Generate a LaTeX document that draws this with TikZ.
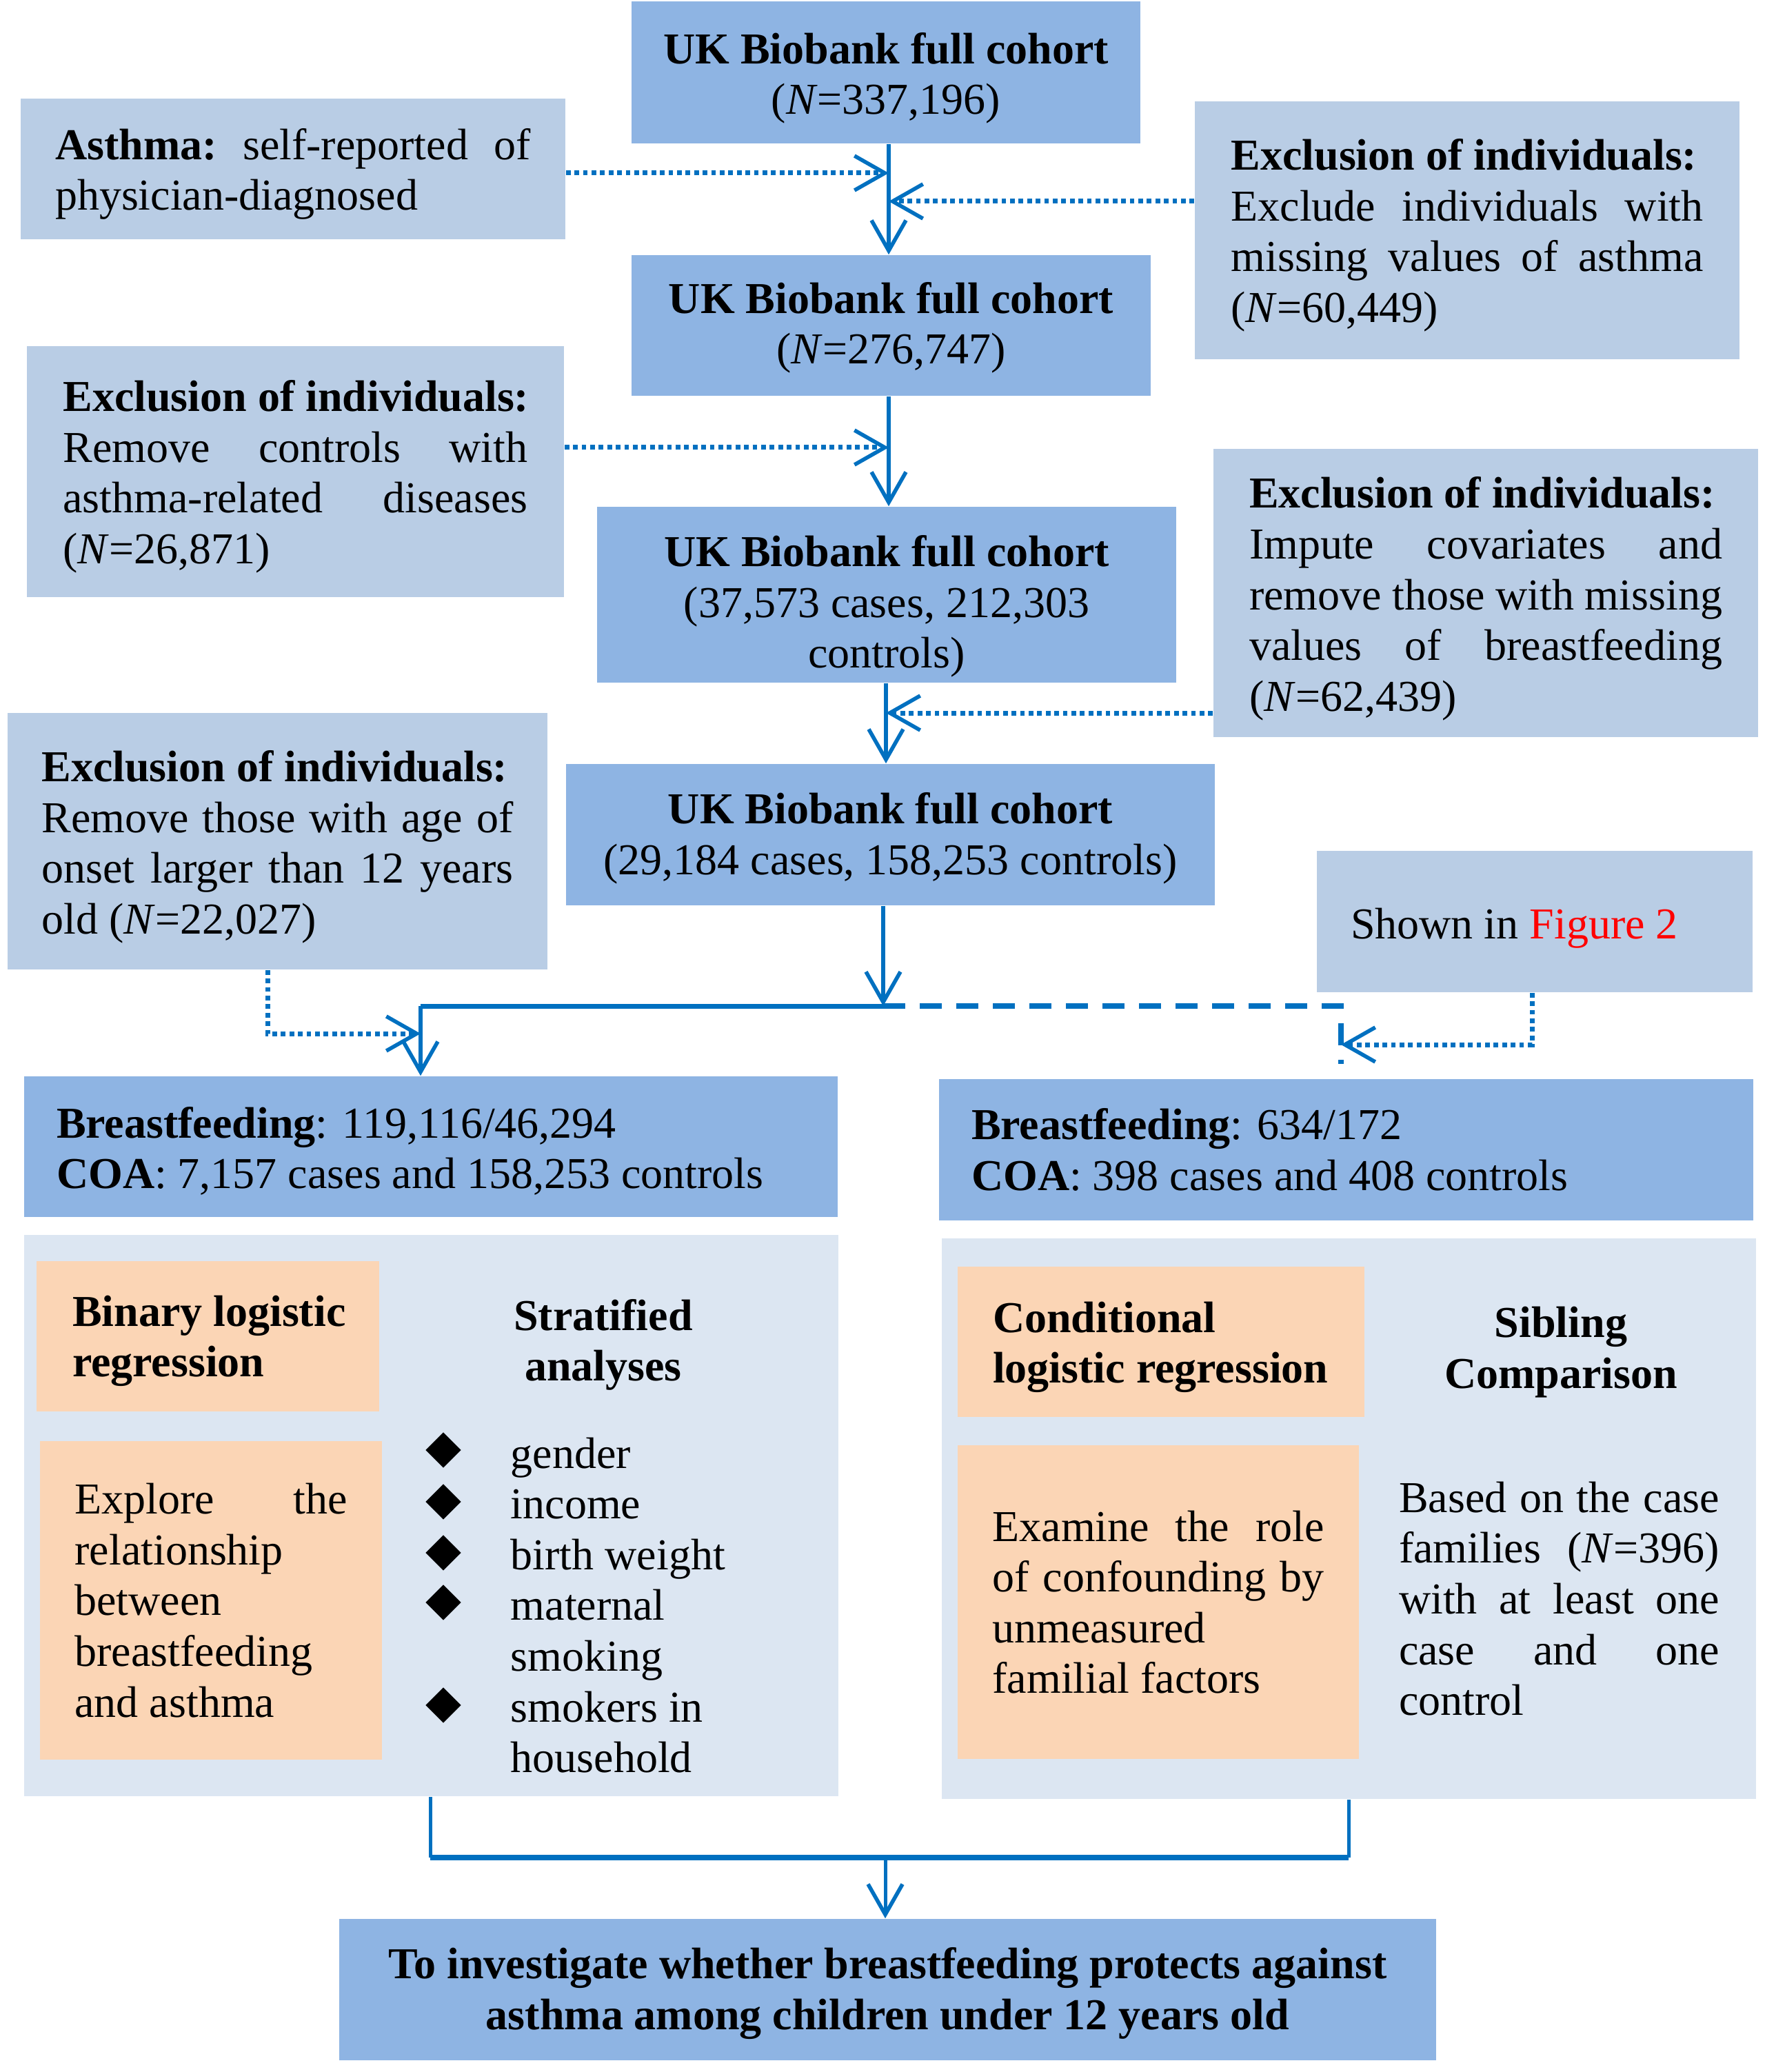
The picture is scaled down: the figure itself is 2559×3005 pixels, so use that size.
\documentclass[tikz,border=0pt]{standalone}
\usepackage{fontspec}
\setmainfont{Liberation Serif}
\usetikzlibrary{arrows.meta,shapes.geometric}
\definecolor{dkfill}{HTML}{8EB4E3}
\definecolor{ltfill}{HTML}{B9CDE5}
\definecolor{ctfill}{HTML}{DCE6F2}
\definecolor{orfill}{HTML}{FBD5B5}
\definecolor{abl}{HTML}{0070C0}
\setlength{\parindent}{0pt}
\newcommand\jl[2]{\hbox to #1{#2}}
\newcommand\lfl[2]{\makebox[#1][l]{#2}}
\newcommand\tp[1]{\rule{0pt}{#1}}
\tikzset{
 every node/.style={font=\fontsize{16}{18.4}\selectfont},
 dkbox/.style={fill=dkfill, align=center, inner sep=0pt},
 ltbox/.style={fill=ltfill, align=left, inner sep=0pt},
 ctbox/.style={fill=ctfill, inner sep=0pt},
 orbox/.style={fill=orfill, align=left, inner sep=0pt},
 conn/.style={draw=abl, line width=1.4pt},
 arrowend/.style={-{Straight Barb[length=11pt,width=12.5pt,line width=1.4pt]}},
 dotconn/.style={draw=abl, line width=1.75pt, dash pattern=on 1.7pt off 1.4pt},
 dashconn/.style={draw=abl, line width=2pt, dash pattern=on 8pt off 5.25pt},
 bullet/.style={diamond, fill=black, inner sep=0pt, minimum width=13pt, minimum height=13pt}
}
\begin{document}
\begin{tikzpicture}[x=0.25pt,y=-0.25pt]
\useasboundingbox (0,0) rectangle (2559,3005);

% main flow boxes
\node[dkbox, minimum width=184.5pt, minimum height=51.5pt] (B1) at (1285,105) {\tp{15.5pt}\textbf{UK Biobank full cohort}\\(\textit{N}=337,196)};
\node[ltbox, minimum width=197.5pt, minimum height=51pt] (A) at (425,245) {\jl{172.5pt}{\tp{15pt}\textbf{Asthma:}\hfill self-reported\hfill of}\\physician-diagnosed};
\node[ltbox, minimum width=197.5pt, minimum height=93.5pt] (E1) at (2128,334) {\lfl{171.25pt}{\tp{15pt}\textbf{Exclusion of individuals:}}\\\jl{171.25pt}{Exclude\hfill individuals\hfill with}\\\jl{171.25pt}{missing\hfill values\hfill of\hfill asthma}\\(\textit{N}=60,449)};
\node[dkbox, minimum width=188.25pt, minimum height=51pt] (B2) at (1292.5,472) {\tp{13pt}\textbf{UK Biobank full cohort}\\(\textit{N}=276,747)};
\node[ltbox, minimum width=194.75pt, minimum height=91pt] (E2) at (428.5,684) {\lfl{168.5pt}{\tp{15pt}\textbf{Exclusion of individuals:}}\\\jl{168.5pt}{Remove\hfill controls\hfill with}\\\jl{168.5pt}{asthma-related\hfill diseases}\\(\textit{N}=26,871)};
\node[dkbox, minimum width=210pt, minimum height=63.75pt] (B3) at (1286,862.5) {\tp{19.75pt}\textbf{UK Biobank full cohort}\\(37,573 cases, 212,303\\controls)};
\node[ltbox, minimum width=197.5pt, minimum height=104.5pt] (E3) at (2155,860) {\lfl{171.5pt}{\tp{15.5pt}\textbf{Exclusion of individuals:}}\\\jl{171.5pt}{Impute\hfill covariates\hfill and}\\\jl{171.5pt}{remove\hfill those\hfill with\hfill missing}\\\jl{171.5pt}{values\hfill of\hfill breastfeeding}\\(\textit{N}=62,439)};
\node[dkbox, minimum width=235.25pt, minimum height=51.25pt] (B4) at (1291.5,1210.5) {\tp{14pt}\textbf{UK Biobank full cohort}\\(29,184 cases, 158,253 controls)};
\node[ltbox, minimum width=195.75pt, minimum height=93pt] (E4) at (402.5,1220) {\lfl{171pt}{\tp{15.5pt}\textbf{Exclusion of individuals:}}\\\jl{171pt}{Remove\hfill those\hfill with\hfill age\hfill of}\\\jl{171pt}{onset\hfill larger\hfill than\hfill 12\hfill years}\\old (\textit{N}=22,027)};
\node[ltbox, minimum width=158pt, minimum height=51.25pt] (F2) at (2226,1336.5) {\lfl{133.5pt}{\tp{15.75pt}Shown in \textcolor{red}{Figure 2}}};

% breastfeeding boxes
\node[dkbox, align=left, minimum width=295pt, minimum height=51pt] (BF1) at (625,1663) {\lfl{271.5pt}{\tp{14.5pt}\textbf{Breastfeeding}: 119,116/46,294}\\\textbf{COA}: 7,157 cases and 158,253 controls};
\node[dkbox, align=left, minimum width=295.25pt, minimum height=51.25pt] (BF2) at (1952.5,1667.5) {\lfl{271.75pt}{\textbf{Breastfeeding}: 634/172}\\\textbf{COA}: 398 cases and 408 controls};

% containers
\node[ctbox, minimum width=295.25pt, minimum height=203.5pt] (L) at (625.5,2198) {};
\node[ctbox, minimum width=295.25pt, minimum height=203.25pt] (R) at (1956.5,2202.5) {};

% left container content
\node[orbox, minimum width=124.25pt, minimum height=54.5pt] (O1) at (301.5,1938) {\lfl{98.25pt}{\tp{14.5pt}\textbf{Binary logistic}}\\\textbf{regression}};
\node[orbox, minimum width=124pt, minimum height=115.5pt] (O2) at (306,2321) {\jl{98.75pt}{Explore\hfill the}\\relationship\\between\\breastfeeding\\and asthma};
\node[align=center, inner sep=0pt] (SA) at (875,1943) {\tp{15pt}\textbf{Stratified}\\\textbf{analyses}};
\node[align=left, anchor=west, inner sep=0pt] (SI) at (740,2328) {gender\\income\\birth weight\\maternal\\smoking\\smokers in\\household};
\node[bullet] (d1) at (643,2103) {};
\node[bullet] (d2) at (643,2178) {};
\node[bullet] (d3) at (643,2252) {};
\node[bullet] (d4) at (643,2324) {};
\node[bullet] (d5) at (643,2473) {};

% right container content
\node[orbox, minimum width=147.5pt, minimum height=54.5pt] (O3) at (1684,1946) {\lfl{122pt}{\tp{15pt}\textbf{Conditional}}\\\textbf{logistic regression}};
\node[orbox, minimum width=145.5pt, minimum height=113.75pt] (O4) at (1680,2323.5) {\jl{120.25pt}{Examine\hfill the\hfill role}\\\jl{120.25pt}{of\hfill confounding\hfill by}\\unmeasured\\familial factors};
\node[align=center, inner sep=0pt] (SC) at (2264,1956) {\tp{13.5pt}\textbf{Sibling}\\\textbf{Comparison}};
\node[align=left, inner sep=0pt] (BT) at (2261.5,2318.5) {\jl{116.25pt}{Based\hfill on\hfill the\hfill case}\\\jl{116.25pt}{families\hfill (\textit{N}=396)}\\\jl{116.25pt}{with\hfill at\hfill least\hfill one}\\\jl{116.25pt}{case\hfill and\hfill one}\\control};

% final box
\node[dkbox, minimum width=397.75pt, minimum height=51.25pt] (FB) at (1287.5,2885.5) {\tp{14pt}\textbf{To investigate whether breastfeeding protects against}\\\textbf{asthma among children under 12 years old}};

% connectors
\coordinate (sx1) at (1289,0);
\coordinate (sx2) at (1285,0);
\coordinate (j1) at (1289,251);
\coordinate (j2) at (1289,292);
\coordinate (j3) at (1289,649);
\coordinate (j4) at (1285,1034);
\draw[conn, arrowend] (B1.south -| sx1) -- (B2.north -| sx1);
\draw[dotconn, arrowend] (A.east |- j1) -- (j1);
\draw[dotconn, arrowend] (E1.west |- j2) -- (j2);
\draw[conn, arrowend] (B2.south -| sx1) -- (B3.north -| sx1);
\draw[dotconn, arrowend] (E2.east |- j3) -- (j3);
\draw[conn, arrowend] (B3.south -| sx2) -- (B4.north -| sx2);
\draw[dotconn, arrowend] (E3.west |- j4) -- (j4);

\coordinate (jm) at (1281,1459);
\coordinate (jl) at (610,1459);
\coordinate (jr) at (1945,1459);
\coordinate (jr2) at (1945,1543);
\draw[conn, arrowend] (B4.south -| jm) -- (jm);
\draw[conn, line width=1.75pt] (jm) -- (jl);
\draw[conn, arrowend] (jl) -- (BF1.north -| jl);
\draw[dashconn] (jm) -- (jr) -- (jr2);

\coordinate (xe4) at (388,0);
\coordinate (jd) at (610,1499);
\draw[dotconn, arrowend] (E4.south -| xe4) -- (xe4 |- jd) -- (jd);
\coordinate (xf2) at (2222,0);
\coordinate (jf) at (1945,1515);
\draw[dotconn, arrowend] (F2.south -| xf2) -- (xf2 |- jf) -- (jf);

\coordinate (bl) at (624,2694);
\coordinate (br) at (1956,2694);
\coordinate (bc) at (1284,2694);
\draw[conn, line width=1.25pt] (L.south -| bl) -- (bl);
\draw[conn, line width=1.25pt] (R.south -| br) -- (br);
\draw[conn, line width=2pt] (bl) -- (br);
\draw[conn, line width=1.25pt, arrowend] (bc) -- (FB.north -| bc);
\end{tikzpicture}
\end{document}
